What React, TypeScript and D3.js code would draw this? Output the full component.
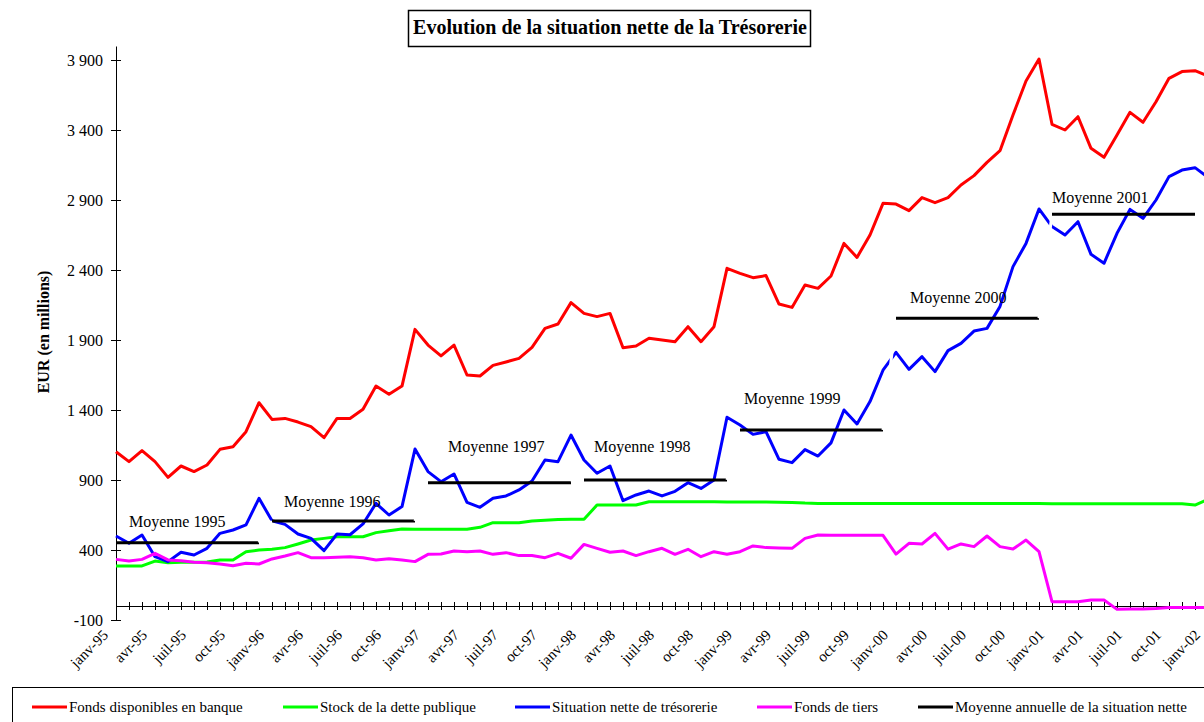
import * as d3 from 'd3'
import { useEffect, useRef } from 'react'

// mois affichés sur l'axe (janv-95 ... janv-02)
const months = ['janv', 'févr', 'mars', 'avr', 'mai', 'juin', 'juil', 'août', 'sept', 'oct', 'nov', 'déc']
const years = ['95', '96', '97', '98', '99', '00', '01', '02']
const categories = years.flatMap((yy) => months.map((m) => `${m}-${yy}`)).slice(0, 85)

const fondsBanque = [
    1102, 1031, 1110, 1031, 919, 1000, 960, 1007, 1119, 1138, 1245, 1452,
    1333, 1340, 1314, 1281, 1202, 1340, 1340, 1405, 1571, 1512, 1571, 1976,
    1864, 1786, 1864, 1650, 1643, 1719, 1743, 1769, 1848, 1983, 2014, 2167,
    2090, 2067, 2090, 1845, 1857, 1912, 1900, 1888, 1995, 1888, 1995, 2412,
    2376, 2345, 2360, 2157, 2133, 2293, 2269, 2357, 2590, 2490, 2650, 2876,
    2871, 2824, 2917, 2881, 2917, 3007, 3074, 3169, 3252, 3507, 3750, 3907,
    3441, 3400, 3495, 3269, 3205, 3364, 3526, 3455, 3602, 3769, 3817, 3824,
    3786,
]

const stockDette = [
    286, 286, 286, 321, 309, 312, 312, 314, 329, 329, 388, 400,
    405, 417, 443, 471, 483, 495, 495, 495, 524, 538, 550, 548,
    548, 548, 548, 548, 562, 595, 595, 595, 607, 612, 617, 619,
    619, 721, 721, 721, 721, 745, 745, 745, 745, 744, 744, 743,
    743, 742, 742, 741, 740, 735, 733, 733, 733, 733, 733, 733,
    733, 733, 733, 733, 733, 733, 733, 733, 733, 733, 733, 733,
    731, 731, 731, 731, 731, 731, 731, 731, 731, 731, 731, 721,
    762,
]

const situationNette = [
    500, 448, 507, 352, 317, 384, 364, 412, 519, 543, 579, 769,
    609, 583, 514, 483, 395, 514, 509, 586, 733, 650, 710, 1121,
    960, 888, 943, 740, 705, 769, 786, 829, 893, 1043, 1031, 1221,
    1043, 948, 1000, 752, 793, 821, 786, 819, 881, 840, 900, 1348,
    1293, 1226, 1245, 1048, 1024, 1117, 1071, 1165, 1400, 1300, 1460, 1684,
    1812, 1690, 1781, 1674, 1824, 1876, 1964, 1983, 2140, 2424, 2590, 2836,
    2710, 2650, 2745, 2512, 2448, 2662, 2833, 2769, 2900, 3067, 3114, 3131,
    3062,
]

const fondsTiers = [
    333, 321, 333, 376, 329, 324, 312, 309, 300, 288, 305, 300,
    336, 357, 381, 345, 345, 348, 352, 345, 329, 338, 329, 317,
    369, 371, 393, 388, 393, 369, 381, 360, 360, 345, 376, 341,
    440, 412, 384, 393, 360, 388, 412, 369, 405, 352, 388, 369,
    388, 429, 417, 414, 412, 483, 507, 505, 505, 505, 505, 505,
    371, 448, 443, 519, 406, 443, 424, 500, 424, 407, 471, 388,
    31, 31, 31, 43, 43, -24, -21, -21, -17, -10, -10, -10,
    -10,
]

const moyenneAnnees = ['1995', '1996', '1997', '1998', '1999', '2000', '2001']
const moyenneValeurs = [452, 607, 881, 900, 1257, 2055, 2798]

const yTicks = [-100, 400, 900, 1400, 1900, 2400, 2900, 3400, 3900]

// décalage des étiquettes "Moyenne xxxx" par rapport au début du segment
const labelOffsets = [
    [13, -16],
    [12, -14],
    [20, -31],
    [10, -28],
    [4, -26],
    [14, -15],
    [0, -11],
]

const series = [
    { name: 'Fonds disponibles en banque', color: '#FF0000', values: fondsBanque },
    { name: 'Stock de la dette publique', color: '#00FF00', values: stockDette },
    { name: 'Situation nette de trésorerie', color: '#0000FF', values: situationNette },
    { name: 'Fonds de tiers', color: '#FF00FF', values: fondsTiers },
]

const legendX = [32, 283, 515, 757, 918]
const FONT = "'Liberation Serif', 'Times New Roman', serif"

function App() {
    const ref = useRef<SVGSVGElement>(null)

    useEffect(() => {
        const svg = d3.select(ref.current)
        svg.selectAll('*').remove()

        const x = d3
            .scalePoint<string>()
            .domain(categories)
            .range([116, 116 + 13 * (categories.length - 1)])

        const y = d3.scaleLinear().domain([-100, 4000]).range([620, 46])

        const fr = d3.formatLocale({
            decimal: ',',
            thousands: '\u00a0',
            grouping: [3],
            currency: ['', ' €'],
            minus: '-',
        })
        const fmt = fr.format(',')

        // titre
        svg.append('rect')
            .attr('x', 408.5)
            .attr('y', 10.5)
            .attr('width', 402)
            .attr('height', 36)
            .attr('fill', '#fff')
            .attr('stroke', '#000')
            .attr('stroke-width', 1.5)
        svg.append('text')
            .attr('x', 610)
            .attr('y', 34)
            .attr('text-anchor', 'middle')
            .attr('font-family', FONT)
            .attr('font-weight', 'bold')
            .attr('font-size', 20)
            .text('Evolution de la situation nette de la Trésorerie')

        // titre axe Y
        svg.append('text')
            .attr('transform', 'translate(49, 332) rotate(-90)')
            .attr('text-anchor', 'middle')
            .attr('font-family', FONT)
            .attr('font-weight', 'bold')
            .attr('font-size', 16)
            .text('EUR (en millions)')

        // axe Y
        const gy = svg.append('g').attr('transform', 'translate(116, 0)')
        gy.call(d3.axisLeft(y).tickValues(yTicks).tickSize(0).tickSizeOuter(0).tickPadding(13).tickFormat((d) => fmt(d as number)))
        gy.select('.domain').attr('stroke', '#000').attr('stroke-width', 1)
        gy.selectAll('.tick line').attr('x1', -5).attr('x2', 5).attr('stroke', '#000')
        gy.selectAll('.tick text').attr('font-family', FONT).attr('font-size', 16).attr('fill', '#000')

        // axe X (à zéro)
        const gx = svg.append('g').attr('transform', `translate(0, ${y(0)})`)
        gx.call(d3.axisBottom(x).tickSize(0).tickSizeOuter(0).tickFormat(() => ''))
        gx.select('.domain').attr('stroke', '#000').attr('stroke-width', 1)
        gx.selectAll('.tick line').attr('y1', -4).attr('y2', 4).attr('stroke', '#000')
        gx.selectAll('.tick text').remove()

        svg.append('g')
            .selectAll('text')
            .data(categories.filter((_, i) => i % 3 === 0))
            .enter()
            .append('text')
            .attr('transform', (d) => `translate(${(x(d) as number) - 7}, 636) rotate(-45)`)
            .attr('text-anchor', 'end')
            .attr('font-family', FONT)
            .attr('font-size', 15)
            .text((d) => d)

        // séries
        const line = d3
            .line<number>()
            .x((_, i) => x(categories[i]) as number)
            .y((d) => y(d))

        series.forEach((s) => {
            svg.append('path')
                .attr('d', line(s.values))
                .attr('fill', 'none')
                .attr('stroke', s.color)
                .attr('stroke-width', 3)
                .attr('stroke-linejoin', 'round')
        })

        // moyennes annuelles
        const gm = svg.append('g')
        moyenneValeurs.forEach((v, k) => {
            const x1 = x(categories[12 * k]) as number
            const x2 = x(categories[12 * k + 11]) as number
            if (k > 0) {
                gm.append('line')
                    .attr('x1', x(categories[12 * k - 1]) as number)
                    .attr('x2', x1)
                    .attr('y1', y(moyenneValeurs[k - 1]))
                    .attr('y2', y(v))
                    .attr('stroke', '#fff')
                    .attr('stroke-width', 3)
            }
            gm.append('line')
                .attr('x1', x1)
                .attr('x2', x2)
                .attr('y1', y(v))
                .attr('y2', y(v))
                .attr('stroke', '#000')
                .attr('stroke-width', 3)
        })
        moyenneValeurs.forEach((v, k) => {
            const x1 = x(categories[12 * k]) as number
            gm.append('text')
                .attr('x', x1 + labelOffsets[k][0])
                .attr('y', y(v) + labelOffsets[k][1])
                .attr('font-family', FONT)
                .attr('font-size', 16)
                .text(`Moyenne ${moyenneAnnees[k]}`)
        })

        // légende
        const gl = svg.append('g')
        gl.append('rect')
            .attr('x', 12.5)
            .attr('y', 687.5)
            .attr('width', 1300)
            .attr('height', 100)
            .attr('fill', 'none')
            .attr('stroke', '#000')
            .attr('stroke-width', 1)
        const legendItems = [
            ...series.map((s) => ({ name: s.name, color: s.color })),
            { name: 'Moyenne annuelle de la situation nette', color: '#000' },
        ]
        legendItems.forEach((item, i) => {
            const lx = legendX[i]
            gl.append('line')
                .attr('x1', lx)
                .attr('x2', lx + 35)
                .attr('y1', 707)
                .attr('y2', 707)
                .attr('stroke', item.color)
                .attr('stroke-width', 3)
            gl.append('text')
                .attr('x', lx + 37)
                .attr('y', 712)
                .attr('font-family', FONT)
                .attr('font-size', 15)
                .text(item.name)
        })
    }, [])

    return (
        <div style={{ position: 'absolute', left: 0, top: 0 }}>
            <svg ref={ref} width={1204} height={722} style={{ display: 'block', background: '#fff' }} />
        </div>
    )
}

export default App
